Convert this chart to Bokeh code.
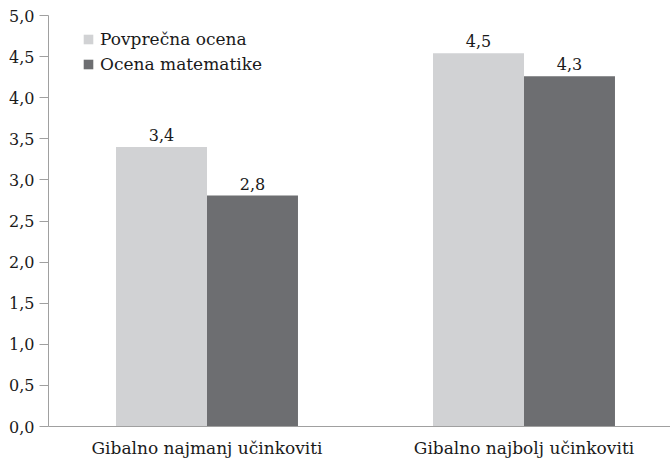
from bokeh.plotting import figure
from bokeh.models import ColumnDataSource, Range1d, FixedTicker, CustomJSTickFormatter, Legend, LegendItem
from bokeh.embed import file_html
from bokeh.resources import INLINE

categories = ["Gibalno najmanj učinkoviti", "Gibalno najbolj učinkoviti"]
series_names = ["Povprečna ocena", "Ocena matematike"]
povprecna = [3.4, 4.54]
matematika = [2.81, 4.26]
y_ticks = [0.0, 0.5, 1.0, 1.5, 2.0, 2.5, 3.0, 3.5, 4.0, 4.5, 5.0]

colors = ["#d1d2d4", "#6d6e71"]
FONT = "DejaVu Serif"
BAR_W = 0.287
centers = [i + 0.5 for i in range(len(categories))]

def fmt(v):
    return f"{v:.1f}".replace(".", ",")

p = figure(width=670, height=460, output_backend="svg", toolbar_location=None,
           x_range=Range1d(0, 622 / 317), y_range=Range1d(0, 5),
           min_border_left=48, min_border_right=0, min_border_top=15, min_border_bottom=32)
p.outline_line_color = None
p.xgrid.visible = False
p.ygrid.visible = False

renderers = []
for k, (vals, col) in enumerate(zip([povprecna, matematika], colors)):
    off = (k - 0.5) * BAR_W
    src = ColumnDataSource(dict(x=[c + off for c in centers], top=vals,
                                lab=[fmt(v) for v in vals]))
    r = p.vbar(x="x", top="top", width=BAR_W, source=src, fill_color=col, line_color=None)
    renderers.append(r)
    p.text(x="x", y="top", text="lab", source=src, text_align="center",
           text_baseline="bottom", y_offset=-6, text_font_size="16px",
           text_font={"value": FONT}, text_color="#1a1a1a")

legend = Legend(items=[LegendItem(label=n, renderers=[r]) for n, r in zip(series_names, renderers)],
                location=(34, 352), glyph_width=12, glyph_height=12, label_standoff=6,
                label_height=20, spacing=5, padding=0, margin=0,
                border_line_color=None, background_fill_alpha=0,
                label_text_font=FONT, label_text_font_size="17px", label_text_color="#1a1a1a")
p.add_layout(legend, "center")

ax_col = "#a0a0a0"
p.yaxis.ticker = FixedTicker(ticks=y_ticks)
p.yaxis.formatter = CustomJSTickFormatter(code="return tick.toFixed(1).replace('.', ',');")
p.yaxis.axis_line_color = ax_col
p.yaxis.major_tick_line_color = ax_col
p.yaxis.major_tick_out = 9
p.yaxis.major_tick_in = 0
p.yaxis.minor_tick_line_color = None
p.yaxis.major_label_standoff = 5
p.yaxis.major_label_text_font = FONT
p.yaxis.major_label_text_font_size = "16px"
p.yaxis.major_label_text_color = "#1a1a1a"

p.xaxis.ticker = FixedTicker(ticks=centers)
p.xaxis.major_label_overrides = {c: n for c, n in zip(centers, categories)}
p.xaxis.axis_line_color = ax_col
p.xaxis.major_tick_line_color = None
p.xaxis.minor_tick_line_color = None
p.xaxis.major_label_standoff = 5
p.xaxis.major_label_text_font = FONT
p.xaxis.major_label_text_font_size = "17px"
p.xaxis.major_label_text_color = "#1a1a1a"

open("out.html", "w").write(file_html(p, INLINE))
